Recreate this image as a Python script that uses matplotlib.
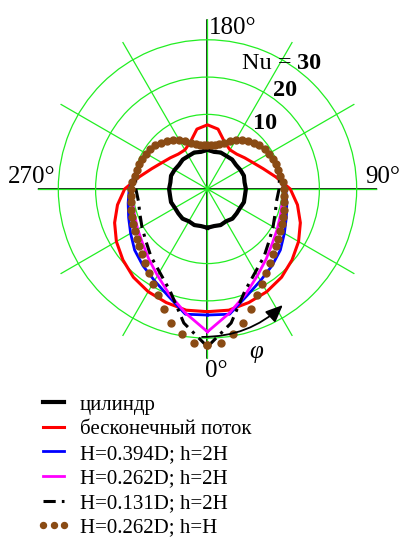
import numpy as np
import matplotlib.pyplot as plt
from matplotlib.lines import Line2D

plt.rcParams['font.family'] = ['Liberation Serif', 'DejaVu Serif']

# angle from the front stagnation point (0 deg at bottom), half profile 0..180, symmetric
phi10 = np.arange(0, 181, 10)
phi5 = np.arange(0, 181, 5)

nu_cylinder = [10.4, 10.1, 10.3, 10.0, 10.4, 10.2, 10.1, 10.4, 10.2, 10.3,
               10.1, 10.4, 10.2, 10.0, 10.3, 10.2, 10.4, 10.1, 10.5]
nu_free = [32.9, 33.0, 32.4, 31.8, 30.9, 29.6, 28.2, 26.5, 24.5, 22.2,
           18.6, 15.9, 14.1, 13.0, 12.2, 12.1, 13.4, 16.3, 17.2]
nu_h0394 = [33.8, 34.1, 30.6, 28.4, 26.9, 25.5, 23.8, 22.5, 21.6, 21.0,
            20.0, 19.6, 19.0, 18.2, 16.9, 15.2, 13.2, 12.0, 11.8]
nu_h0262 = [38.3, 33.8, 30.0, 26.8, 24.5, 22.7, 21.6, 20.8, 20.4, 20.4,
            19.9, 19.6, 19.0, 18.2, 16.9, 15.2, 13.2, 12.0, 11.8]
nu_h0131 = [42.3, 36.5, 29.2, 25.7, 23.6, 21.6, 20.3, 19.3, 18.8, 19.2,
            19.6, 19.5, 19.0, 18.2, 16.9, 15.2, 13.2, 12.0, 11.8]
nu_h0262_hH = [41.8, 41.5, 39.6, 37.3, 34.3, 31.4, 29.3, 27.5, 26.0, 24.7,
               23.9, 23.2, 22.5, 22.0, 21.6, 21.3, 20.8, 20.6, 20.6, 20.2,
               19.8, 19.7, 19.5, 19.3, 19.0, 18.7, 18.2, 17.6, 16.9, 16.0,
               15.1, 14.1, 13.2, 12.4, 12.0, 11.8, 11.8]

labels = ['цилиндр', 'бесконечный поток', 'H=0.394D; h=2H',
          'H=0.262D; h=2H', 'H=0.131D; h=2H', 'H=0.262D; h=H']


def closed(phi, r):
    phi = np.asarray(phi, float)
    r = np.asarray(r, float)
    th = np.concatenate([phi, 360 - phi[-2::-1]])
    rr = np.concatenate([r, r[-2::-1]])
    return np.deg2rad(th), rr


def px(x, y):
    return x / 399, 1 - y / 538


W, H = 399, 538
fig = plt.figure(figsize=(W / 100, H / 100), dpi=100)
ax = fig.add_axes([0.0947, 0.3333, 0.8506, 0.6309], projection='polar')
ax.set_theta_zero_location('S')
ax.set_theta_direction(1)
rmax = 45.5
ax.set_ylim(0, rmax)
ax.set_rgrids([10, 20, 30, 40], labels=[])
ax.set_thetagrids(range(0, 360, 30), labels=[])
ax.grid(True, color='#22ee22', lw=0.9)
ax.spines['polar'].set_visible(False)
ax.tick_params(length=0)

for t in (0, 90, 180, 270):
    ax.plot([np.deg2rad(t)] * 2, [0, rmax], color='k', lw=1.2, zorder=1.5)

styles = [
    dict(color='k', lw=3.0),
    dict(color='#ff0000', lw=2.2),
    dict(color='#0000ff', lw=2.0),
    dict(color='#ff00ff', lw=2.0),
    dict(color='k', lw=2.2, linestyle=(0, (4, 2, 1, 2))),
]
series = [nu_cylinder, nu_free, nu_h0394, nu_h0262, nu_h0131]
handles = []
for vals, st in zip(series, styles):
    th, rr = closed(phi10, vals)
    ax.plot(th, rr, zorder=3, **st)
    handles.append(Line2D([], [], **st))

brown = '#8a4b14'
th, rr = closed(phi5, nu_h0262_hH)
ax.plot(th, rr, linestyle='none', marker='o', ms=5.0, color=brown, zorder=4)
handles.append(Line2D([], [], linestyle='none', marker='o', ms=4.3, color=brown))

# rotation arrow
ax.annotate('', xy=(np.deg2rad(33), 37.1), xytext=(np.deg2rad(357.9), 39.7),
            arrowprops=dict(arrowstyle='-|>,head_length=0.7,head_width=0.3',
                            connectionstyle='arc3,rad=0.2', color='k', lw=1.3,
                            mutation_scale=15, shrinkA=0, shrinkB=0), zorder=5)

fs = 18
fig.text(*px(209, 34), '180°', fontsize=fs, ha='left', va='baseline')
fig.text(*px(8, 183), '270°', fontsize=fs, ha='left', va='baseline')
fig.text(*px(365, 183), '90°', fontsize=fs, ha='left', va='baseline')
fig.text(*px(205, 377), '0°', fontsize=fs, ha='left', va='baseline')
fig.text(*px(256, 352), 'φ', fontsize=fs, style='italic', ha='center', va='center')

fs_nu = 17.5
fig.text(*px(291, 69), 'Nu =', fontsize=fs_nu, ha='right', va='baseline')
fig.text(*px(297, 69), '30', fontsize=fs_nu, fontweight='bold', ha='left', va='baseline')
fig.text(*px(273, 96), '20', fontsize=fs_nu, fontweight='bold', ha='left', va='baseline')
fig.text(*px(253, 129), '10', fontsize=fs_nu, fontweight='bold', ha='left', va='baseline')

fig.legend(handles, labels, loc='upper left', bbox_to_anchor=px(37, 395),
           frameon=False, borderpad=0, borderaxespad=0, handlelength=1.6,
           handletextpad=0.45, labelspacing=0.24, fontsize=15, numpoints=3)

fig.savefig('out.png', dpi=100)
